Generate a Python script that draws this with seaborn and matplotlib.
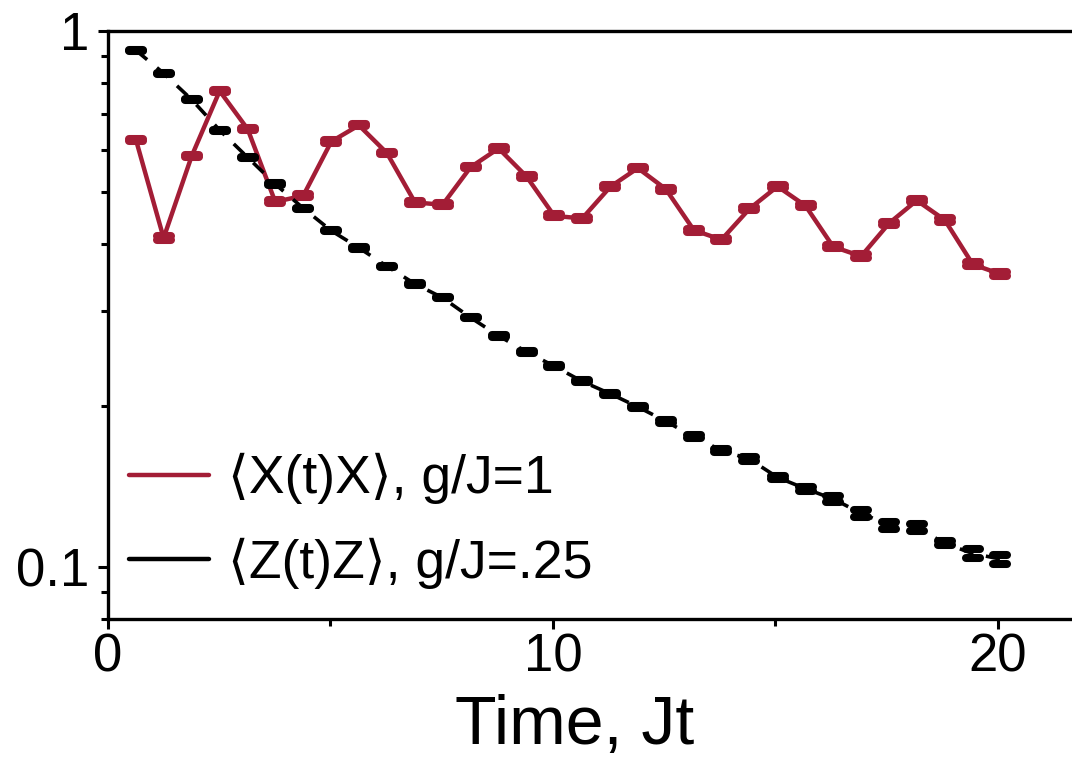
import numpy as np
import pandas as pd
import matplotlib
matplotlib.use("Agg")
import matplotlib.pyplot as plt
import seaborn as sns
from matplotlib.lines import Line2D
from matplotlib.markers import MarkerStyle
from matplotlib.ticker import NullFormatter

# ---------------- data ----------------
time_jt = [0.63, 1.25, 1.88, 2.51, 3.14, 3.76, 4.39, 5.02, 5.64, 6.27, 6.90, 7.52,
           8.15, 8.78, 9.41, 10.03, 10.66, 11.29, 11.91, 12.54, 13.17, 13.79, 14.42,
           15.05, 15.68, 16.30, 16.93, 17.56, 18.18, 18.81, 19.44, 20.06]

xx_corr = [0.626, 0.411, 0.584, 0.773, 0.656, 0.480, 0.493, 0.622, 0.667, 0.592,
           0.479, 0.474, 0.557, 0.604, 0.535, 0.452, 0.447, 0.512, 0.555, 0.507,
           0.425, 0.408, 0.466, 0.513, 0.472, 0.396, 0.380, 0.438, 0.483, 0.444,
           0.367, 0.352]
xx_err = [0.003, 0.003, 0.003, 0.003, 0.003, 0.003, 0.003, 0.003, 0.003, 0.003,
          0.003, 0.003, 0.003, 0.003, 0.003, 0.003, 0.003, 0.003, 0.003, 0.003,
          0.003, 0.003, 0.003, 0.003, 0.003, 0.003, 0.003, 0.003, 0.003, 0.003,
          0.003, 0.003]

zz_corr = [0.920, 0.834, 0.745, 0.653, 0.581, 0.518, 0.467, 0.424, 0.394, 0.364,
           0.3375, 0.318, 0.292, 0.270, 0.252, 0.237, 0.222, 0.2105, 0.199, 0.187,
           0.175, 0.165, 0.159, 0.147, 0.140, 0.134, 0.126, 0.1197, 0.1186, 0.1107,
           0.106, 0.1035]
zz_err = [0.002, 0.002, 0.002, 0.002, 0.0015, 0.0015, 0.0015, 0.0012, 0.0012, 0.0012,
          0.0010, 0.0010, 0.0010, 0.0010, 0.0010, 0.0010, 0.0010, 0.0010, 0.0010, 0.0010,
          0.0010, 0.0010, 0.0012, 0.0010, 0.0012, 0.0015, 0.0019, 0.0018, 0.0018, 0.0010,
          0.0020, 0.0020]

labels = ["\u27e8X(t)X\u27e9, g/J=1", "\u27e8Z(t)Z\u27e9, g/J=.25"]
y_ticks = [0.1, 1]
y_ticklabels = ["0.1", "1"]
y_minor = [0.08, 0.09, 0.2, 0.3, 0.4, 0.5, 0.6, 0.7, 0.8, 0.9]
x_ticks = [0, 10, 20]
x_minor = [5, 15]

RED = "#A31D36"
BLACK = "#000000"

sns.set_theme(style="ticks")
plt.rcParams["font.family"] = ["Liberation Sans", "DejaVu Sans"]
plt.rcParams["text.color"] = "black"
plt.rcParams["axes.labelcolor"] = "black"
plt.rcParams["xtick.color"] = "black"
plt.rcParams["ytick.color"] = "black"

df_x = pd.DataFrame({"t": time_jt, "c": xx_corr, "e": xx_err})
df_z = pd.DataFrame({"t": time_jt, "c": zz_corr, "e": zz_err})

fig = plt.figure(figsize=(10.72, 7.59), dpi=100)
ax = fig.add_axes([108 / 1072, 1 - 619 / 759, (1072 - 108) / 1072, (619 - 31) / 759])

round_cap = MarkerStyle("_", capstyle="round")

# red series
sns.lineplot(data=df_x, x="t", y="c", color=RED, lw=3.2, ax=ax, zorder=2)
ebx = ax.errorbar(df_x["t"], df_x["c"], yerr=df_x["e"], fmt="none", ecolor=RED,
                  elinewidth=0, capsize=5.2, capthick=5.8, zorder=3)
# black series
sns.lineplot(data=df_z, x="t", y="c", color=BLACK, lw=2.6, ax=ax,
             linestyle=(0, (4, 3.5)), zorder=4)
ebz = ax.errorbar(df_z["t"], df_z["c"], yerr=df_z["e"], fmt="none", ecolor=BLACK,
                  elinewidth=0, capsize=5.2, capthick=5.8, zorder=5)
for eb in (ebx, ebz):
    for cap in eb[1]:
        cap.set_marker(round_cap)

ax.set_yscale("log")
ax.set_ylim(0.08, 1.0)
ax.set_xlim(0, 21.67)

ax.set_yticks(y_ticks)
ax.set_yticklabels(y_ticklabels)
ax.set_yticks(y_minor, minor=True)
ax.yaxis.set_minor_formatter(NullFormatter())
ax.set_xticks(x_ticks)
ax.set_xticklabels([str(v) for v in x_ticks])
ax.set_xticks(x_minor, minor=True)

ax.tick_params(axis="both", which="major", length=7.5, width=2.2, direction="out",
               labelsize=38, colors="black")
ax.tick_params(axis="y", which="major", pad=6)
ax.tick_params(axis="x", which="major", pad=2)
ax.tick_params(axis="both", which="minor", length=5, width=2.2, direction="out")

for side in ["left", "bottom", "top"]:
    ax.spines[side].set_linewidth(2.4)
    ax.spines[side].set_color("black")
ax.spines["right"].set_visible(False)

ax.set_ylabel("")
ax.set_xlabel("Time, Jt", fontsize=49, color="black")
ax.xaxis.set_label_coords((575 - 108) / 964, -0.128)

handles = [Line2D([], [], color=RED, lw=3.2, solid_capstyle="round"),
           Line2D([], [], color=BLACK, lw=3.2, solid_capstyle="round")]
leg = ax.legend(handles, labels, loc="center left", bbox_to_anchor=(0.022, 0.167),
                frameon=False, fontsize=38.5, handlelength=1.5, handletextpad=0.35,
                labelspacing=0.62, borderpad=0, borderaxespad=0)
for txt in leg.get_texts():
    txt.set_color("black")

fig.savefig("out.png", dpi=100)
